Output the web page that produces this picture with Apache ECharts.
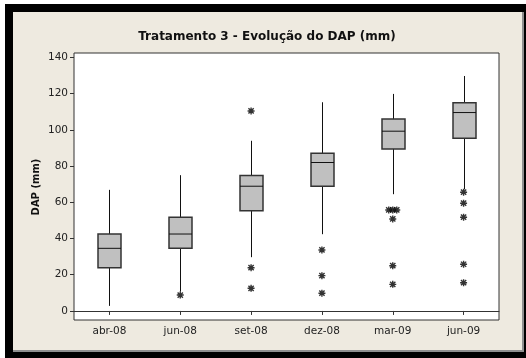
<!DOCTYPE html>
<html>
<head>
<meta charset="utf-8">
<script src="https://cdn.jsdelivr.net/npm/echarts@6/dist/echarts.min.js"></script>
<style>
html,body{margin:0;padding:0;background:#fff;}
#c{width:526px;height:358px;}
</style>
</head>
<body>
<div id="c"></div>
<script>
// ---- data ----
const categories = ['abr-08', 'jun-08', 'set-08', 'dez-08', 'mar-09', 'jun-09'];
const whiskerLow  = [2.8, 10.7, 29.7, 42.4, 64.5, 67.2];
const q1          = [23.9, 34.6, 55.4, 68.9, 89.5, 95.4];
const median      = [34.6, 42.5, 68.9, 82.0, 99.3, 109.6];
const q3          = [42.5, 51.8, 74.8, 87.1, 106.0, 115.0];
const whiskerHigh = [66.9, 75.0, 94.0, 115.3, 119.9, 129.8];
const outlierCategory = ['jun-08', 'set-08', 'set-08', 'set-08', 'dez-08', 'dez-08', 'dez-08',
  'mar-09', 'mar-09', 'mar-09', 'mar-09', 'mar-09', 'mar-09',
  'jun-09', 'jun-09', 'jun-09', 'jun-09', 'jun-09'];
const outlierValue = [8.8, 110.5, 23.9, 12.5, 33.7, 19.5, 9.8,
  55.8, 55.8, 55.8, 50.8, 25.0, 14.7,
  65.6, 59.5, 51.8, 25.8, 15.6];
const yTicks = [0, 20, 40, 60, 80, 100, 120, 140];
const titleText = 'Tratamento 3 - Evolução do DAP (mm)';
const yName = 'DAP (mm)';

// ---- build ----
const boxData = categories.map((c, i) => [i, whiskerLow[i], q1[i], median[i], q3[i], whiskerHigh[i]]);

// spread identical outliers horizontally (Minitab-style)
const groups = {};
outlierCategory.forEach((c, i) => {
  const k = c + '|' + outlierValue[i];
  (groups[k] = groups[k] || []).push(i);
});
const outlierData = outlierCategory.map((c, i) => {
  const k = c + '|' + outlierValue[i];
  const g = groups[k];
  const idx = g.indexOf(i);
  const off = (idx - (g.length - 1) / 2) * 4;
  return { value: [categories.indexOf(c), outlierValue[i]], symbolOffset: [off, 0] };
});

const FONT = 'DejaVu Sans';
const chart = echarts.init(document.getElementById('c'), null, { renderer: 'canvas' });
const option = {
  backgroundColor: '#ffffff',
  animation: false,
  graphic: [
    { type: 'rect', shape: { x: 5, y: 4, width: 521, height: 354 }, style: { fill: '#000' }, z: -10 },
    { type: 'rect', shape: { x: 13, y: 12, width: 511, height: 340 }, style: { fill: '#8f8f8f' }, z: -9 },
    { type: 'rect', shape: { x: 13, y: 12, width: 509, height: 338 }, style: { fill: '#EEEAE0' }, z: -8 },
    { type: 'text', x: 267, y: 31, style: { text: titleText, font: 'bold 12px "' + FONT + '"', fill: '#111', textAlign: 'center', textVerticalAlign: 'top' }, z: 10 },
    { type: 'text', x: 36, y: 187, rotation: Math.PI / 2, style: { text: yName, font: 'bold 10px "' + FONT + '"', fill: '#111', textAlign: 'center', textVerticalAlign: 'middle' }, z: 10 }
  ],
  grid: [
    { left: 74, right: 27, top: 53, bottom: 38, show: true, backgroundColor: '#ffffff', borderColor: '#333', borderWidth: 1 },
    { left: 74, right: 27, top: 57.5, bottom: 47.1, show: false }
  ],
  xAxis: [
    {
      type: 'category', gridIndex: 0, data: categories, boundaryGap: true,
      axisLine: { show: true, lineStyle: { color: '#333', width: 1 } },
      axisTick: { show: true, alignWithLabel: true, length: 4, lineStyle: { color: '#333' } },
      axisLabel: { fontFamily: FONT, fontSize: 10.5, color: '#222', margin: 6 },
      splitLine: { show: false }
    },
    { type: 'category', gridIndex: 1, data: categories, show: false }
  ],
  yAxis: [
    {
      type: 'value', gridIndex: 0, min: -5, max: 142.5,
      axisLine: { show: false }, axisTick: { show: false }, axisLabel: { show: false }, splitLine: { show: false }
    },
    {
      type: 'value', gridIndex: 1, min: yTicks[0], max: yTicks[yTicks.length - 1], interval: yTicks[1] - yTicks[0],
      axisLine: { show: false },
      axisTick: { show: true, length: 4, lineStyle: { color: '#333' } },
      axisLabel: { fontFamily: FONT, fontSize: 10.5, color: '#222', margin: 6 },
      splitLine: { show: false }
    }
  ],
  series: [
    {
      type: 'custom', xAxisIndex: 0, yAxisIndex: 0,
      data: boxData,
      encode: { x: 0, y: [1, 2, 3, 4, 5] },
      renderItem: function (params, api) {
        const x = api.value(0);
        const pLo = api.coord([x, api.value(1)]);
        const pQ1 = api.coord([x, api.value(2)]);
        const pMd = api.coord([x, api.value(3)]);
        const pQ3 = api.coord([x, api.value(4)]);
        const pHi = api.coord([x, api.value(5)]);
        const w = 23;
        const cx = Math.round(pLo[0]) + 0.5;
        return {
          type: 'group',
          children: [
            { type: 'line', shape: { x1: cx, y1: pLo[1], x2: cx, y2: pHi[1] }, style: { stroke: '#111', lineWidth: 1 } },
            { type: 'rect', shape: { x: cx - w / 2, y: pQ3[1], width: w, height: pQ1[1] - pQ3[1] }, style: { fill: '#C0C0C0', stroke: '#333', lineWidth: 1.5 } },
            { type: 'line', shape: { x1: cx - w / 2, y1: pMd[1], x2: cx + w / 2, y2: pMd[1] }, style: { stroke: '#111', lineWidth: 1 } }
          ]
        };
      }
    },
    {
      type: 'scatter', xAxisIndex: 0, yAxisIndex: 0,
      data: outlierData,
      symbol: 'path://M0,4L8,4M4,0L4,8M1,1L7,7M7,1L1,7',
      symbolSize: 7,
      itemStyle: { color: 'rgba(0,0,0,0)', borderColor: '#000', borderWidth: 1.4 },
      z: 5
    }
  ]
};
chart.setOption(option);
</script>
</body>
</html>
